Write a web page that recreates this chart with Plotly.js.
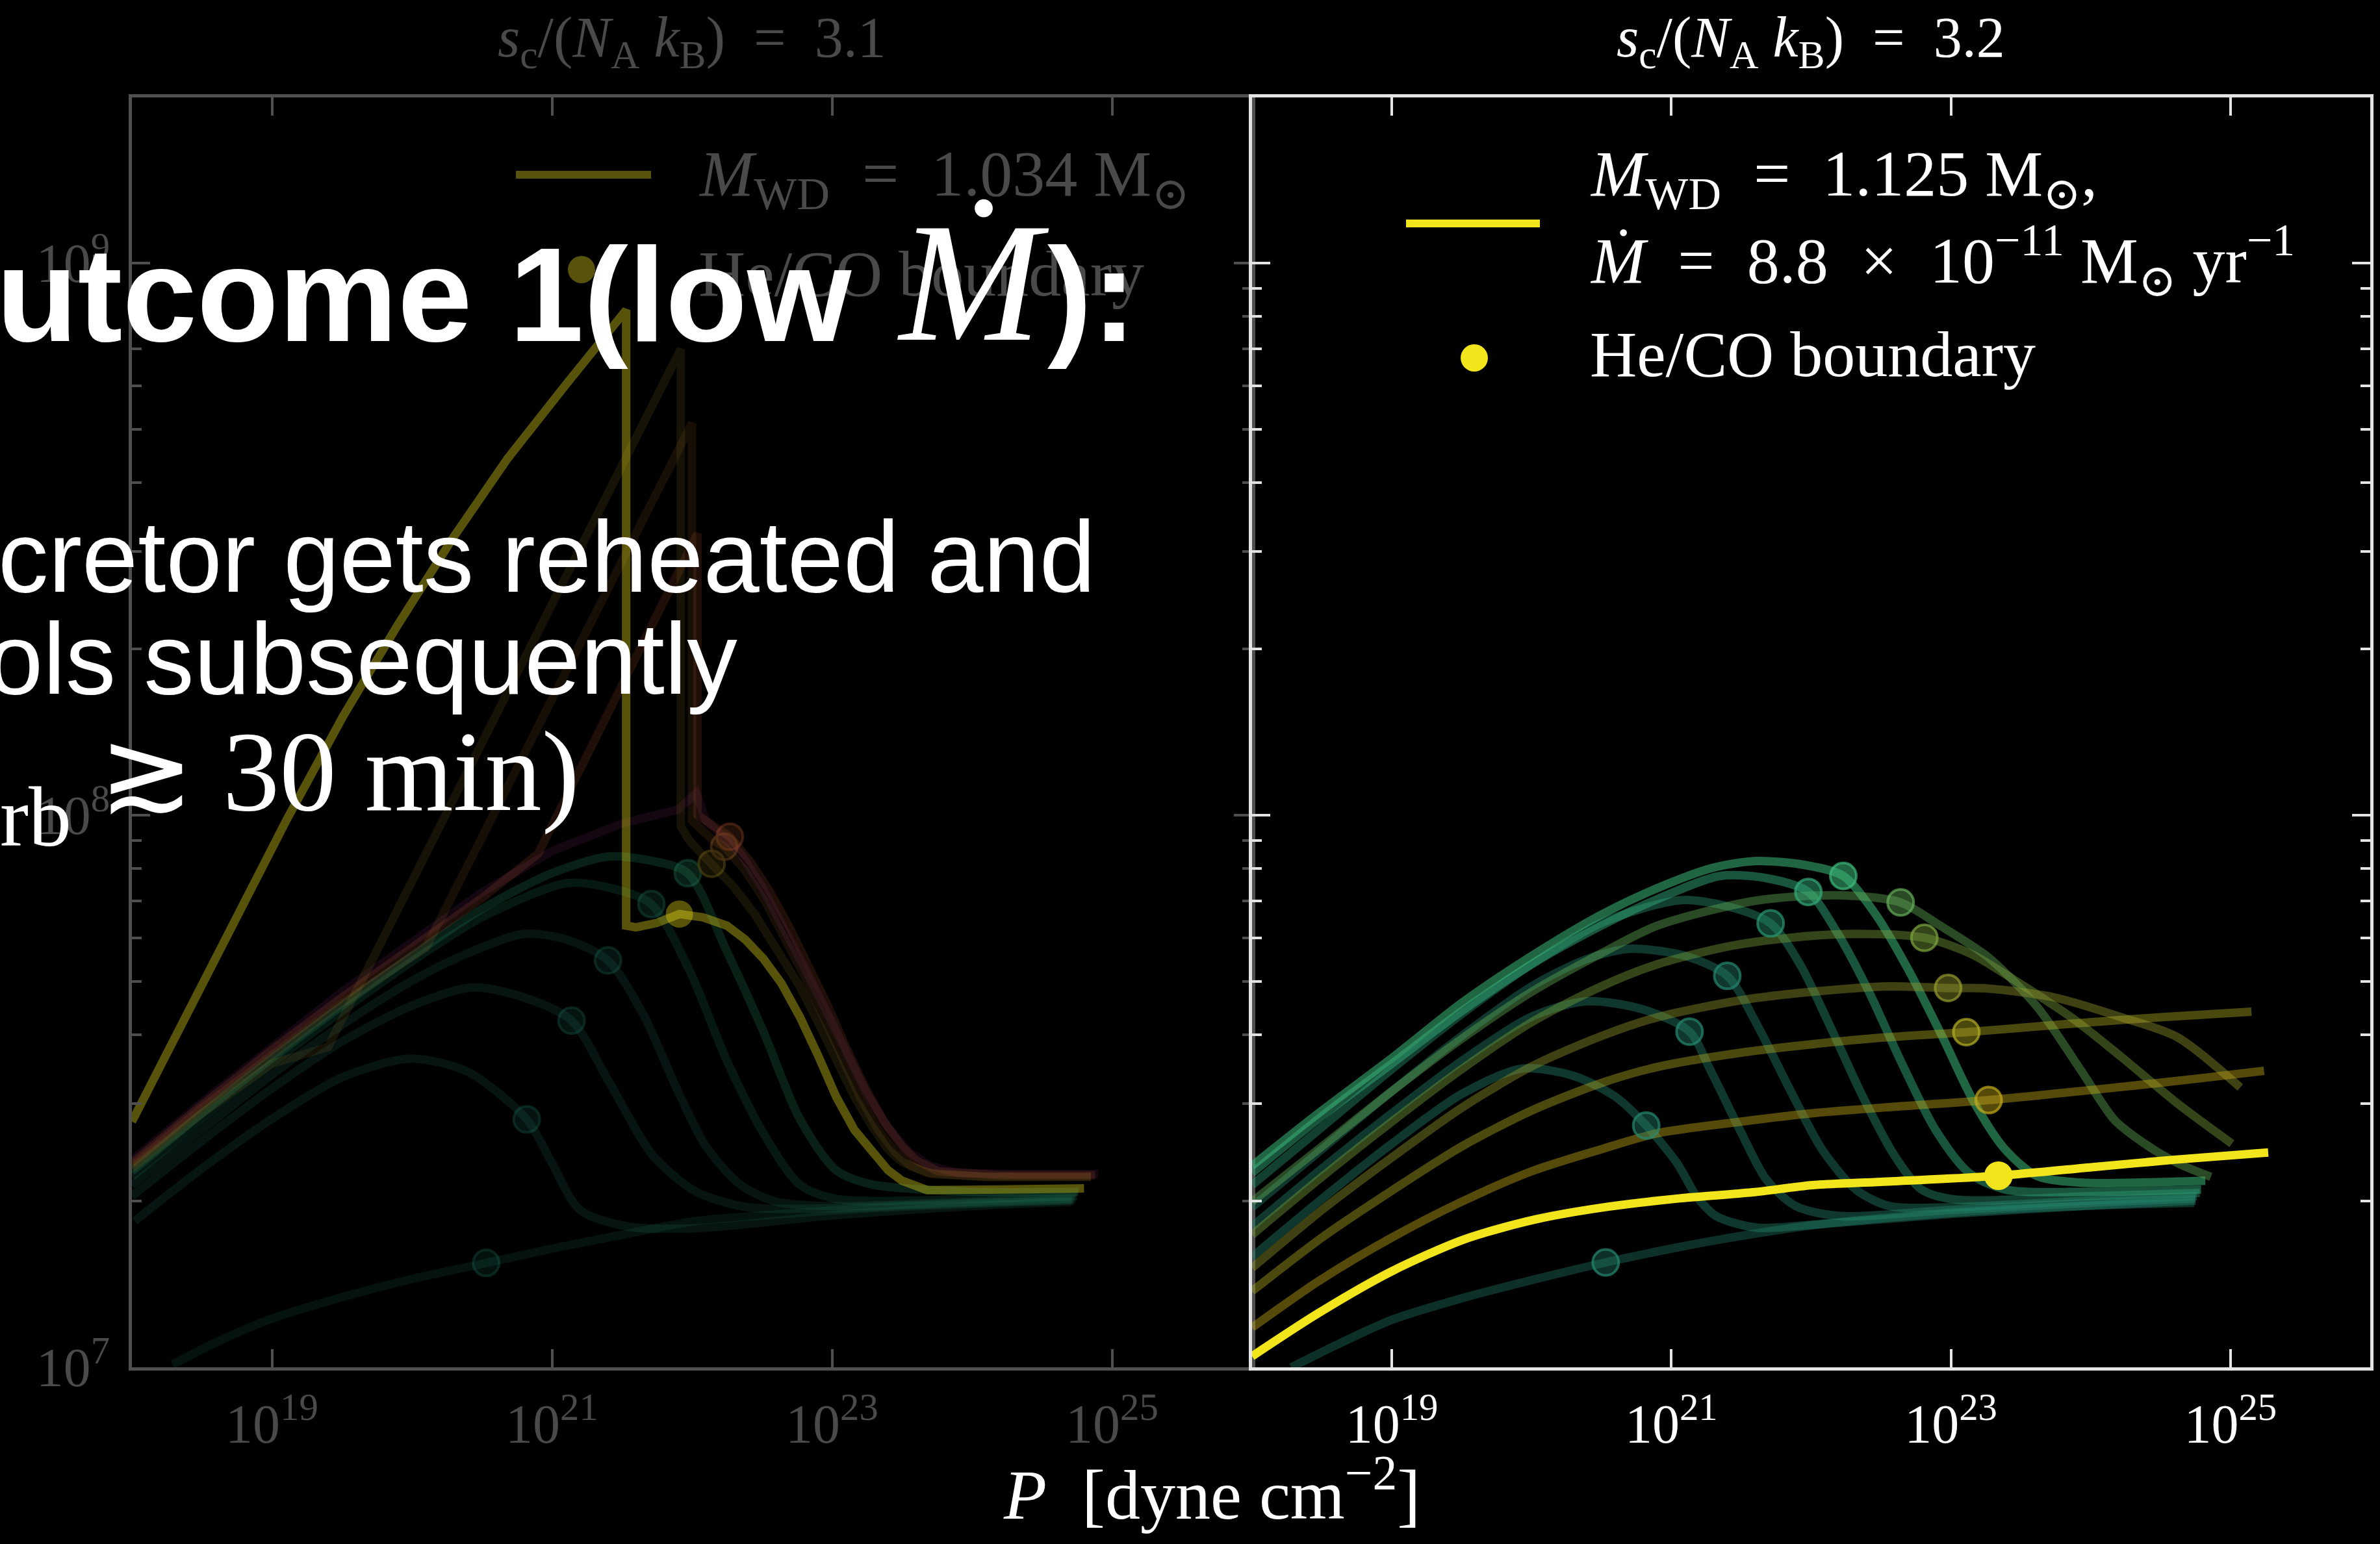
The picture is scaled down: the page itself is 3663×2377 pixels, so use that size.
<!DOCTYPE html>
<html><head><meta charset="utf-8">
<script src="https://cdn.plot.ly/plotly-3.0.1.min.js"></script>
<style>html,body{margin:0;padding:0;background:#000;}</style>
</head><body>
<div id="chart" style="width:3663px;height:2377px;"></div>
<script>
// ---------- DATA (log10 P [dyne cm^-2], log10 T [K]) ----------
// Right panel: s_c/(N_A k_B) = 3.2
const R1_P = [18.28, 18.6, 19.0, 19.5, 20.0, 20.53, 21.0, 21.5, 22.0, 22.5, 23.0, 23.5, 24.0, 24.4, 24.74];
const R1_T = [7.0, 7.04, 7.086, 7.125, 7.158, 7.19, 7.215, 7.238, 7.257, 7.27, 7.28, 7.288, 7.293, 7.296, 7.298];
const R2_P = [18.0, 18.5, 19.0, 19.5, 19.93, 20.3, 20.6, 20.82, 21.04, 21.18, 21.32, 21.61, 22.0, 23.0, 24.0, 24.75];
const R2_T = [7.2, 7.305, 7.405, 7.495, 7.541, 7.528, 7.49, 7.438, 7.37, 7.31, 7.274, 7.253, 7.258, 7.278, 7.293, 7.302];
const R3_P = [18.0, 18.5, 19.0, 19.5, 20.0, 20.39, 20.8, 21.13, 21.28, 21.49, 21.68, 21.89, 22.2, 23.0, 24.0, 24.75];
const R3_T = [7.255, 7.36, 7.46, 7.555, 7.635, 7.663, 7.648, 7.608, 7.538, 7.43, 7.34, 7.292, 7.274, 7.285, 7.298, 7.306];
const R4_P = [18.0, 18.5, 19.0, 19.5, 20.0, 20.4, 20.7, 21.1, 21.4, 21.61, 21.85, 22.08, 22.32, 22.56, 23.0, 24.0, 24.76];
const R4_T = [7.29, 7.395, 7.5, 7.6, 7.69, 7.74, 7.758, 7.745, 7.709, 7.622, 7.502, 7.394, 7.322, 7.292, 7.29, 7.302, 7.31];
const R5_P = [18.0, 18.5, 19.0, 19.5, 20.0, 20.5, 21.06, 21.4, 21.71, 21.92, 22.15, 22.37, 22.6, 22.79, 23.03, 24.0, 24.78];
const R5_T = [7.33, 7.435, 7.54, 7.64, 7.73, 7.805, 7.846, 7.835, 7.804, 7.73, 7.61, 7.49, 7.382, 7.322, 7.304, 7.31, 7.316];
const R6_P = [18.0, 18.5, 19.0, 19.5, 20.0, 20.5, 20.9, 21.35, 21.7, 21.98, 22.18, 22.41, 22.65, 22.89, 23.13, 23.39, 24.0, 24.79];
const R6_T = [7.352, 7.455, 7.55, 7.645, 7.73, 7.80, 7.848, 7.89, 7.885, 7.861, 7.79, 7.682, 7.55, 7.43, 7.352, 7.322, 7.318, 7.322];
const R7_P = [18.0, 18.5, 19.0, 19.5, 20.0, 20.5, 20.9, 21.3, 21.61, 21.95, 22.23, 22.46, 22.7, 22.94, 23.17, 23.39, 23.62, 23.98, 24.4, 24.82];
const R7_T = [7.365, 7.465, 7.56, 7.66, 7.745, 7.82, 7.868, 7.905, 7.917, 7.91, 7.89, 7.821, 7.718, 7.598, 7.478, 7.394, 7.346, 7.334, 7.335, 7.338];
const R8_P = [18.0, 18.5, 19.0, 19.5, 20.0, 20.5, 20.9, 21.6, 22.2, 22.64, 22.91, 23.27, 23.62, 23.93, 24.17, 24.38, 24.62, 24.86];
const R8_T = [7.30, 7.40, 7.50, 7.595, 7.68, 7.75, 7.80, 7.845, 7.855, 7.842, 7.802, 7.742, 7.652, 7.538, 7.448, 7.406, 7.37, 7.345];
const R9_P = [18.0, 18.5, 19.0, 19.5, 20.0, 20.5, 20.9, 21.4, 21.85, 22.3, 22.81, 23.15, 23.5, 23.86, 24.22, 24.62, 25.01];
const R9_T = [7.24, 7.345, 7.445, 7.54, 7.625, 7.69, 7.73, 7.762, 7.778, 7.785, 7.778, 7.748, 7.694, 7.634, 7.562, 7.478, 7.405];
const R10_P = [18.0, 18.5, 19.0, 19.5, 20.0, 20.5, 20.9, 21.5, 22.0, 22.56, 22.98, 23.27, 23.74, 24.22, 24.62, 25.07];
const R10_T = [7.18, 7.285, 7.38, 7.47, 7.545, 7.60, 7.634, 7.665, 7.68, 7.69, 7.687, 7.686, 7.67, 7.634, 7.598, 7.507];
const R11_P = [18.0, 18.5, 19.0, 19.5, 20.0, 20.5, 20.9, 21.5, 22.0, 22.5, 23.11, 23.6, 24.0, 24.5, 25.15];
const R11_T = [7.138, 7.235, 7.32, 7.40, 7.465, 7.515, 7.544, 7.57, 7.585, 7.597, 7.607, 7.617, 7.625, 7.634, 7.644];
const R12_P = [18.0, 18.5, 19.0, 19.5, 20.0, 20.5, 20.9, 21.5, 22.0, 22.6, 23.27, 23.8, 24.3, 24.8, 25.24];
const R12_T = [7.072, 7.16, 7.235, 7.30, 7.355, 7.395, 7.424, 7.445, 7.46, 7.472, 7.484, 7.497, 7.51, 7.524, 7.537];
// highlighted: M_WD = 1.125 Msun, Mdot = 8.8e-11 Msun/yr
const R13_P = [18.0, 18.48, 19.0, 19.52, 20.03, 20.55, 21.06, 21.58, 22.01, 22.5, 23.34, 24.03, 24.6, 25.27];
const R13_T = [7.02, 7.099, 7.174, 7.232, 7.268, 7.291, 7.306, 7.317, 7.33, 7.336, 7.347, 7.363, 7.376, 7.389];
// He/CO boundary points (right), R1..R12 then R13
const RB_P = [20.53, 20.82, 21.13, 21.40, 21.71, 21.98, 22.23, 22.64, 22.81, 22.98, 23.11, 23.27];
const RB_T = [7.19, 7.438, 7.608, 7.709, 7.804, 7.861, 7.89, 7.842, 7.778, 7.687, 7.607, 7.484];
const R13B_P = [23.34];
const R13B_T = [7.347];

// Left panel: s_c/(N_A k_B) = 3.1
const L1_P = [18.29, 18.6, 19.0, 19.5, 20.0, 20.53, 21.0, 21.5, 22.03, 22.5, 23.0, 23.5, 24.0, 24.4, 24.71];
const L1_T = [7.005, 7.045, 7.088, 7.127, 7.16, 7.189, 7.215, 7.24, 7.265, 7.275, 7.284, 7.291, 7.296, 7.30, 7.303];
const L2_P = [18.02, 18.5, 19.0, 19.5, 19.99, 20.4, 20.82, 21.0, 21.2, 21.54, 22.03, 23.0, 24.0, 24.72];
const L2_T = [7.265, 7.36, 7.45, 7.525, 7.559, 7.535, 7.449, 7.37, 7.285, 7.255, 7.252, 7.275, 7.292, 7.30];
const L3_P = [18.0, 18.5, 19.0, 19.5, 20.0, 20.43, 20.8, 21.14, 21.41, 21.72, 22.03, 22.4, 23.0, 24.0, 24.73];
const L3_T = [7.31, 7.41, 7.505, 7.59, 7.655, 7.688, 7.67, 7.628, 7.516, 7.384, 7.318, 7.29, 7.288, 7.298, 7.303];
const L4_P = [18.0, 18.5, 19.0, 19.5, 20.0, 20.4, 20.8, 21.1, 21.4, 21.65, 21.9, 22.1, 22.35, 22.6, 23.0, 24.0, 24.74];
const L4_T = [7.33, 7.43, 7.53, 7.62, 7.70, 7.75, 7.785, 7.775, 7.737, 7.64, 7.50, 7.40, 7.33, 7.30, 7.292, 7.30, 7.306];
const L5_P = [18.0, 18.5, 19.0, 19.5, 20.0, 20.5, 21.11, 21.45, 21.71, 21.98, 22.25, 22.51, 22.77, 23.03, 24.0, 24.75];
const L5_T = [7.345, 7.45, 7.55, 7.645, 7.735, 7.815, 7.877, 7.866, 7.839, 7.72, 7.555, 7.424, 7.331, 7.305, 7.305, 7.31];
const L6_P = [18.0, 18.5, 19.0, 19.5, 20.0, 20.5, 21.0, 21.4, 21.7, 21.97, 22.25, 22.51, 22.77, 23.03, 23.29, 24.0, 24.76];
const L6_T = [7.355, 7.46, 7.56, 7.655, 7.745, 7.83, 7.895, 7.925, 7.918, 7.895, 7.753, 7.608, 7.45, 7.357, 7.331, 7.318, 7.318];
const S2_P = [18.0, 18.5, 19.0, 19.4, 20.0, 20.5, 21.0, 21.5, 21.92, 21.92, 21.98, 22.05, 22.14, 22.3, 22.45, 22.6, 22.77, 22.9, 23.03, 23.16, 23.29, 23.4, 23.5, 23.68, 24.1, 24.85];
const S2_T = [7.36, 7.46, 7.55, 7.58, 7.88, 8.13, 8.38, 8.634, 8.844, 7.98, 7.955, 7.935, 7.912, 7.87, 7.82, 7.76, 7.69, 7.625, 7.555, 7.49, 7.435, 7.395, 7.372, 7.352, 7.345, 7.345];
const S3_P = [18.0, 18.5, 19.0, 19.5, 20.1, 20.5, 21.0, 21.5, 22.0, 22.0, 22.08, 22.15, 22.23, 22.38, 22.52, 22.66, 22.8, 22.93, 23.06, 23.2, 23.33, 23.45, 23.56, 23.72, 24.1, 24.85];
const S3_T = [7.365, 7.47, 7.565, 7.66, 7.76, 7.96, 8.21, 8.46, 8.71, 7.99, 7.97, 7.955, 7.943, 7.90, 7.845, 7.78, 7.71, 7.64, 7.565, 7.49, 7.43, 7.39, 7.365, 7.35, 7.345, 7.345];
const S4_P = [18.0, 18.5, 19.0, 19.5, 20.0, 20.5, 20.9, 21.5, 22.04, 22.04, 22.12, 22.2, 22.27, 22.42, 22.56, 22.7, 22.84, 22.97, 23.1, 23.24, 23.37, 23.5, 23.6, 23.76, 24.2, 24.88];
const S4_T = [7.37, 7.475, 7.575, 7.67, 7.76, 7.85, 7.93, 8.235, 8.51, 8.0, 7.985, 7.972, 7.961, 7.915, 7.86, 7.795, 7.725, 7.655, 7.58, 7.505, 7.445, 7.40, 7.375, 7.355, 7.348, 7.348];
const S5_P = [18.0, 18.5, 19.0, 19.5, 20.0, 20.5, 21.0, 21.5, 21.9, 22.03, 22.1, 22.2, 22.35, 22.5, 22.65, 22.8, 22.95, 23.1, 23.25, 23.4, 23.55, 23.7, 23.9, 24.3, 24.9];
const S5_T = [7.375, 7.48, 7.58, 7.68, 7.77, 7.86, 7.935, 7.985, 8.01, 8.04, 7.99, 7.965, 7.93, 7.87, 7.8, 7.725, 7.65, 7.57, 7.495, 7.435, 7.39, 7.365, 7.352, 7.35, 7.35];
// highlighted: M_WD = 1.034 Msun
const SM_P = [18.0, 18.5, 19.11, 19.51, 19.9, 20.29, 20.68, 21.1, 21.53, 21.53, 21.6, 21.75, 21.91, 22.08, 22.25, 22.38, 22.51, 22.64, 22.77, 22.9, 23.03, 23.16, 23.29, 23.4, 23.5, 23.68, 24.2, 24.8];
const SM_T = [7.445, 7.69, 7.994, 8.18, 8.345, 8.501, 8.645, 8.78, 8.915, 7.80, 7.797, 7.805, 7.821, 7.815, 7.80, 7.775, 7.74, 7.695, 7.635, 7.565, 7.49, 7.43, 7.39, 7.357, 7.338, 7.321, 7.322, 7.324];
const LB_P = [20.53, 20.82, 21.14, 21.40, 21.71, 21.97, 22.14, 22.23, 22.27];
const LB_T = [7.189, 7.449, 7.628, 7.737, 7.839, 7.895, 7.912, 7.943, 7.961];
const SMB_P = [21.91];
const SMB_T = [7.821];

// tick labels
const xTickExp = [19, 21, 23, 25];
const yTickExp = [7, 8, 9];
const yMinorMant = [2, 3, 4, 5, 6, 7, 8, 9];

// ---------- helpers ----------
const W = 3663, H = 2377;
const px = x => x / W;
const py = y => 1 - y / H;
const pow10 = a => a.map(v => Math.pow(10, v));

const TEAL = 'rgba(37,137,112,0.40)';
const rightColors = [
  'rgba(37,137,112,0.36)', TEAL, TEAL, TEAL,
  'rgba(40,150,115,0.42)', 'rgba(50,170,120,0.50)', 'rgba(60,185,120,0.55)',
  'rgba(100,175,88,0.42)', 'rgba(125,165,62,0.42)', 'rgba(150,155,45,0.42)',
  'rgba(180,175,35,0.42)', 'rgba(195,168,25,0.44)'
];
const YEL = '#f3e51b';
const leftColors = [
  'rgba(37,137,112,0.36)', TEAL, TEAL, TEAL, 'rgba(40,150,115,0.42)', 'rgba(50,170,120,0.50)',
  'rgba(190,160,40,0.30)', 'rgba(200,130,50,0.30)', 'rgba(230,110,60,0.36)', 'rgba(170,60,140,0.32)'
];
const LEFT_OP = 0.38;
const LW = 13;

function line(P, T, color, xa, ya, shape, op) {
  return {
    x: pow10(P), y: pow10(T), mode: 'lines', xaxis: xa, yaxis: ya,
    line: {color: color, width: LW, shape: shape, smoothing: 0.8},
    opacity: op, hoverinfo: 'skip', showlegend: false
  };
}
function dots(P, T, colors, xa, ya, size, op, ring) {
  return {
    x: pow10(P), y: pow10(T), mode: 'markers', xaxis: xa, yaxis: ya,
    marker: {size: size, color: colors, line: {color: ring, width: ring ? 4 : 0}},
    opacity: op, hoverinfo: 'skip', showlegend: false
  };
}
const solid = c => c.replace(/,0\.\d+\)$/, ',0.7)');

const traces = [];
// left panel (faded)
const leftSets = [[L1_P, L1_T], [L2_P, L2_T], [L3_P, L3_T], [L4_P, L4_T], [L5_P, L5_T], [L6_P, L6_T]];
leftSets.forEach((s, i) => traces.push(line(s[0], s[1], leftColors[i], 'x', 'y', 'spline', LEFT_OP)));
[[S5_P, S5_T, 9], [S4_P, S4_T, 8], [S3_P, S3_T, 7], [S2_P, S2_T, 6]].forEach(s =>
  traces.push(line(s[0], s[1], leftColors[s[2]], 'x', 'y', 'linear', LEFT_OP)));
traces.push(dots(LB_P, LB_T, leftColors.slice(0, 9), 'x', 'y', 40, LEFT_OP, leftColors.slice(0, 9).map(solid)));
traces.push(line(SM_P, SM_T, YEL, 'x', 'y', 'linear', 0.36));
traces.push(dots(SMB_P, SMB_T, [YEL], 'x', 'y', 42, 0.36, null));

// right panel
const rightSets = [[R1_P, R1_T], [R2_P, R2_T], [R3_P, R3_T], [R4_P, R4_T], [R5_P, R5_T], [R6_P, R6_T],
  [R7_P, R7_T], [R8_P, R8_T], [R9_P, R9_T], [R10_P, R10_T], [R11_P, R11_T], [R12_P, R12_T]];
rightSets.forEach((s, i) => traces.push(line(s[0], s[1], rightColors[i], 'x2', 'y2', 'spline', 1)));
traces.push(dots(RB_P, RB_T, rightColors, 'x2', 'y2', 40, 1, rightColors.map(solid)));
traces.push(line(R13_P, R13_T, YEL, 'x2', 'y2', 'spline', 1));
traces.push(dots(R13B_P, R13B_T, [YEL], 'x2', 'y2', 44, 1, null));

// ---------- axes ----------
const sup = n => '10<sup>' + n + '</sup>';
function xAxis(domain, col, fcol, anchor) {
  return {
    type: 'log', domain: domain, range: [18, 26], anchor: anchor,
    showline: true, linecolor: col, linewidth: 5, mirror: 'ticks',
    ticks: 'inside', ticklen: 28, tickwidth: 4, tickcolor: col,
    tickmode: 'array', tickvals: xTickExp.map(e => Math.pow(10, e)), ticktext: xTickExp.map(sup),
    tickfont: {family: 'Liberation Serif', size: 84, color: fcol},
    ticklabelstandoff: 10, showgrid: false, zeroline: false
  };
}
const minorVals = [];
[7, 8].forEach(e => yMinorMant.forEach(m => minorVals.push(m * Math.pow(10, e))));
function yAxis(col, fcol, anchor, labels) {
  return {
    type: 'log', domain: [py(2105), py(150)], range: [7, 9.3], anchor: anchor,
    showline: true, linecolor: col, linewidth: 5, mirror: 'ticks',
    ticks: 'inside', ticklen: 28, tickwidth: 4, tickcolor: col,
    tickmode: 'array', tickvals: yTickExp.map(e => Math.pow(10, e)), ticktext: yTickExp.map(sup),
    showticklabels: labels,
    tickfont: {family: 'Liberation Serif', size: 84, color: fcol},
    ticklabelstandoff: 12,
    minor: {tickmode: 'array', tickvals: minorVals, ticks: 'inside', ticklen: 15, tickwidth: 4, tickcolor: col, showgrid: false},
    showgrid: false, zeroline: false
  };
}
const GREY = '#4f4f4f', GREYT = '#4a4a4a', WHITE = '#e4e4e4';

// ---------- text ----------
function ann(text, x, yBase, size, family, color, xanchor) {
  return {
    text: text, xref: 'paper', yref: 'paper', x: px(x), y: py(yBase - 0.34 * size),
    xanchor: xanchor || 'left', yanchor: 'middle', showarrow: false,
    font: {family: family, size: size, color: color}
  };
}
const SERIF = 'Liberation Serif, DejaVu Serif, serif';
const SANS = 'Liberation Sans, Arial, sans-serif';
const SP = '\u2002';
const titleTxt = v => '<i>s</i><sub>c</sub>/(<i>N</i><sub>A</sub> <i>k</i><sub>B</sub>)' + SP + '=' + SP + v;
const annotations = [
  ann(titleTxt('3.1'), 1065, 93, 88, SERIF, GREYT, 'center'),
  ann(titleTxt('3.2'), 2787, 93, 88, SERIF, '#ffffff', 'center'),
  ann('<i>P</i>' + SP + '[dyne cm<sup>−2</sup>]', 1865, 2330, 108, SERIF, '#ffffff', 'center'),
  // left legend
  ann('<i>M</i><sub>WD</sub>' + SP + '=' + SP + '1.034 M<sub>⊙</sub>', 1073, 308, 100, SERIF, GREYT),
  ann('He/CO boundary', 1073, 455, 100, SERIF, GREYT),
  // right legend
  ann('<i>M</i><sub>WD</sub>' + SP + '=' + SP + '1.125 M<sub>⊙</sub>,', 2445, 308, 100, SERIF, '#ffffff'),
  ann('<i>Ṁ</i>' + SP + '=' + SP + '8.8' + SP + '×' + SP + '10<sup>−11</sup> M<sub>⊙</sub> yr<sup>−1</sup>', 2445, 435, 100, SERIF, '#ffffff'),
  ann('He/CO boundary', 2445, 579, 100, SERIF, '#ffffff'),
  // slide overlay text
  ann('<b>utcome 1(low</b>', -8, 524, 206, SANS, '#ffffff'),
  ann('<i>Ṁ</i>', 1378, 524, 262, SERIF, '#ffffff'),
  ann('<b>):</b>', 1610, 524, 206, SANS, '#ffffff'),
  ann('cretor gets reheated and', -5, 910, 155, SANS, '#ffffff'),
  ann('ols subsequently', -22, 1067, 155, SANS, '#ffffff'),
  ann('rb', -2, 1302, 132, SERIF, '#ffffff'),
  ann('≳ 30 min)', 150, 1247, 175, SERIF, '#ffffff')
];
const shapes = [
  {type: 'line', xref: 'paper', yref: 'paper', x0: px(794), x1: px(1002), y0: py(269), y1: py(269),
   line: {color: 'rgb(88,83,12)', width: 12}},
  {type: 'circle', xref: 'paper', yref: 'paper', x0: px(874), x1: px(916), y0: py(436), y1: py(394),
   fillcolor: 'rgb(88,83,12)', line: {width: 0}},
  {type: 'line', xref: 'paper', yref: 'paper', x0: px(2164), x1: px(2370), y0: py(344), y1: py(344),
   line: {color: YEL, width: 12}},
  {type: 'circle', xref: 'paper', yref: 'paper', x0: px(2248), x1: px(2290), y0: py(572), y1: py(530),
   fillcolor: YEL, line: {width: 0}}
];

const layout = {
  width: W, height: H, margin: {l: 0, r: 0, t: 0, b: 0, pad: 0},
  paper_bgcolor: '#000000', plot_bgcolor: '#000000', showlegend: false,
  font: {family: SERIF, color: '#ffffff'},
  xaxis: xAxis([px(203), px(1927)], GREY, GREYT, 'y'),
  yaxis: yAxis(GREY, GREYT, 'x', true),
  xaxis2: xAxis([px(1927), px(3648)], WHITE, '#ffffff', 'y2'),
  yaxis2: yAxis(WHITE, '#ffffff', 'x2', false),
  annotations: annotations, shapes: shapes
};
Plotly.newPlot('chart', traces, layout, {displayModeBar: false, staticPlot: true});
</script></body></html>
